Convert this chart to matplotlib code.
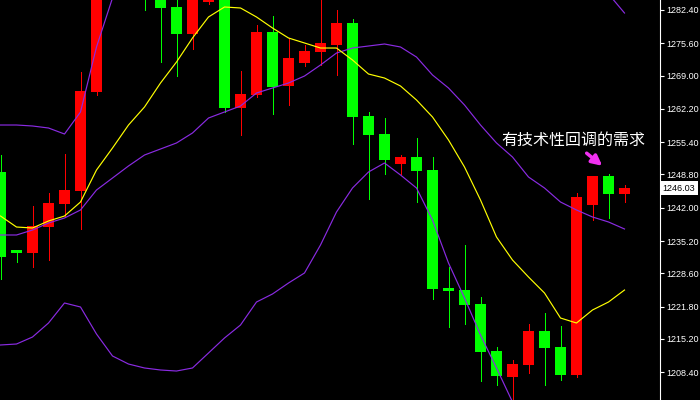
import matplotlib.pyplot as plt
from matplotlib import transforms

plt.rcParams['font.family'] = ['Noto Sans CJK SC', 'DejaVu Sans']

opens = [1249.30, 1233.36, 1232.75, 1238.06, 1242.76, 1245.42, 1265.64, 1292.61, 1299.76, 1292.61,
         1287.50, 1283.01, 1277.49, 1284.03, 1288.53, 1262.38, 1265.03, 1277.90, 1266.87, 1271.57,
         1273.82, 1275.25, 1279.74, 1260.74, 1257.06, 1250.93, 1252.36, 1249.71, 1225.60, 1225.19,
         1222.33, 1212.73, 1207.42, 1209.87, 1216.82, 1213.55, 1207.83, 1242.56, 1248.48, 1244.81]
closes = [1231.93, 1232.75, 1238.27, 1242.97, 1245.62, 1265.85, 1292.61, 1299.76, 1292.61, 1287.50,
          1282.81, 1277.49, 1286.48, 1288.53, 1262.38, 1265.24, 1277.90, 1266.67, 1272.59, 1274.02,
          1275.66, 1279.74, 1260.54, 1256.86, 1251.75, 1252.36, 1249.50, 1225.40, 1224.99, 1222.13,
          1212.53, 1207.62, 1210.07, 1216.82, 1213.34, 1207.83, 1244.19, 1248.48, 1244.81, 1246.03]
highs = [1252.77, 1233.36, 1242.35, 1245.01, 1252.98, 1269.73, 1294.66, 1302.83, 1301.81, 1294.66,
         1289.55, 1285.46, 1287.50, 1290.57, 1289.55, 1269.93, 1279.33, 1281.17, 1276.68, 1275.25,
         1285.05, 1282.40, 1280.56, 1261.56, 1260.33, 1252.77, 1256.25, 1252.36, 1229.89, 1234.39,
         1223.76, 1213.55, 1210.89, 1218.25, 1220.49, 1217.84, 1245.01, 1248.48, 1248.89, 1246.64]
lows = [1227.44, 1230.91, 1229.89, 1231.32, 1240.11, 1237.66, 1265.03, 1291.00, 1290.57, 1282.40,
        1271.77, 1268.91, 1274.43, 1283.62, 1261.56, 1256.86, 1264.62, 1261.15, 1262.99, 1270.96,
        1271.16, 1269.12, 1255.02, 1243.78, 1248.89, 1248.89, 1243.17, 1223.35, 1217.63, 1218.25,
        1206.60, 1205.78, 1201.70, 1208.24, 1205.78, 1206.81, 1207.42, 1239.49, 1239.90, 1243.17]

ma_yellow = [1240.31, 1238.06, 1237.86, 1239.29, 1240.31, 1243.17, 1249.71, 1254.20, 1258.90, 1262.58,
             1267.48, 1271.77, 1276.68, 1280.97, 1283.01, 1282.81, 1280.97, 1278.72, 1276.68, 1275.66,
             1274.63, 1274.63, 1272.18, 1269.32, 1268.50, 1266.87, 1264.01, 1260.54, 1255.84, 1250.32,
             1243.58, 1236.02, 1231.32, 1227.85, 1224.58, 1219.47, 1218.45, 1221.11, 1222.74, 1225.19]
bb_upper = [1258.90, 1258.90, 1258.70, 1258.29, 1257.06, 1261.56, 1274.84, 1284.85, 1290.98, 1296.29,
            1299.15, 1301.81, 1305.28, 1308.34, 1307.73, 1307.53, 1308.14, 1308.55, 1308.34, 1309.16,
            1307.93, 1306.10, 1303.24, 1300.78, 1299.76, 1300.99, 1299.56, 1298.74, 1302.21, 1302.42,
            1301.81, 1301.19, 1302.42, 1298.95, 1297.11, 1293.02, 1290.16, 1288.93, 1285.67, 1281.78]
bb_middle = [1236.43, 1236.43, 1237.45, 1238.88, 1239.90, 1241.54, 1245.62, 1248.07, 1250.53, 1252.77,
             1254.00, 1255.23, 1257.27, 1260.33, 1261.56, 1262.78, 1265.44, 1266.46, 1267.48, 1268.91,
             1271.16, 1273.61, 1274.63, 1275.04, 1275.45, 1274.84, 1272.79, 1269.12, 1266.46, 1262.99,
             1258.90, 1255.23, 1252.36, 1248.28, 1246.03, 1243.17, 1241.54, 1240.11, 1239.09, 1237.66]
bb_lower = [1213.96, 1214.16, 1215.59, 1218.45, 1222.54, 1221.72, 1216.20, 1211.71, 1210.07, 1209.26,
            1208.85, 1208.64, 1209.26, 1212.32, 1215.39, 1218.04, 1222.74, 1224.38, 1226.62, 1228.67,
            1234.39, 1241.13, 1246.03, 1249.30, 1251.14, 1248.69, 1246.03, 1239.49, 1230.71, 1223.56,
            1216.00, 1209.26, 1202.31, 1197.61, 1194.96, 1193.32, 1192.91, 1193.32, 1193.73, 1193.53]

price_ticks = [1282.40, 1275.60, 1269.00, 1262.20, 1255.40, 1248.80,
               1242.00, 1235.20, 1228.60, 1221.80, 1215.20, 1208.40]
last_price = 1246.03
note = "有技术性回调的需求"

UP = '#ff0000'
DOWN = '#00ff00'
BAND = '#8a2be2'
MA = '#ffff00'


def draw_candles(ax):
    x = list(range(len(opens)))
    colors = [UP if c >= o else DOWN for o, c in zip(opens, closes)]
    ax.vlines(x, lows, highs, colors=colors, lw=0.72, antialiased=False)
    ax.bar(x, [c - o for o, c in zip(opens, closes)], bottom=opens,
           width=0.69, color=colors, lw=0)
    return x


if __name__ == "__main__":
    fig = plt.figure(figsize=(7, 4), dpi=100, facecolor='black')
    ax = fig.add_axes([0, 0, 660 / 700, 1])
    ax.set_facecolor('black')

    x = draw_candles(ax)
    for band in (bb_upper, bb_middle, bb_lower):
        ax.plot(x, band, color=BAND, lw=0.85)
    ax.plot(x, ma_yellow, color=MA, lw=0.85)

    ax.set_xlim(-0.5 / 16, 659.5 / 16)
    ax.set_ylim(1202.72, 1284.44)

    for side in ('top', 'left', 'bottom'):
        ax.spines[side].set_visible(False)
    ax.spines['right'].set_color('white')
    ax.spines['right'].set_linewidth(0.8)
    ax.set_xticks([])
    ax.yaxis.tick_right()
    ax.set_yticks(price_ticks)
    ax.set_yticklabels(["%.2f" % p for p in price_ticks], family='Liberation Sans')
    ax.tick_params(axis='y', colors='white', length=3, width=0.8, pad=1.5, labelsize=6.5)

    trans = transforms.blended_transform_factory(ax.transAxes, ax.transData)
    ax.text(1.004, last_price, "%.2f" % last_price, transform=trans, va='center', ha='left',
            color='black', fontsize=6.5, family='Liberation Sans', clip_on=False,
            bbox=dict(boxstyle='square,pad=0.25', fc='white', ec='none'))

    ax.text(31.3, 1255.84, note, color='white', fontsize=11.5, va='center', ha='left')
    ax.annotate('', xy=(37.75, 1250.2), xytext=(36.5, 1253.5),
                arrowprops=dict(arrowstyle='-|>', color='#f030f0', lw=2.5, mutation_scale=15))

    fig.savefig('out.png', dpi=100, facecolor='black')
